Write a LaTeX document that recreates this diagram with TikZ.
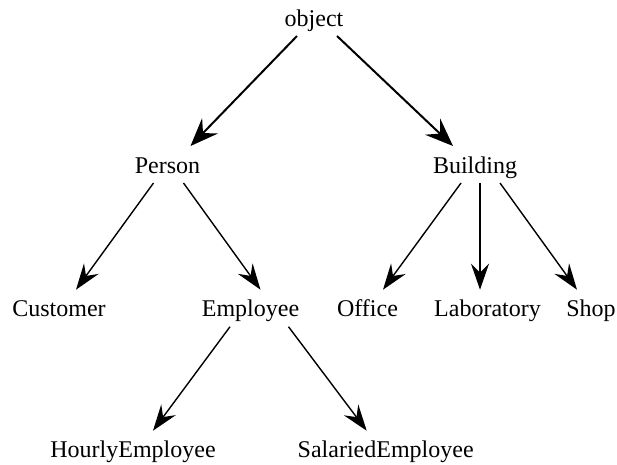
\documentclass[tikz,border=0pt]{standalone}
\usepackage{fontspec}
\setmainfont{Liberation Serif}
\usetikzlibrary{arrows.meta}
\tikzset{
  cls/.style    ={anchor=base,inner sep=0pt,outer xsep=0pt,outer ysep=10pt,
                  text height=17pt,text depth=0pt,font=\fontsize{24}{28}\selectfont},
  isa/.style    ={-{Stealth[length=26pt,width=18pt,inset=9pt]},line width=1.4pt},
  isatop/.style ={-{Stealth[length=28pt,width=22pt,inset=10pt]},line width=2pt},
}

\begin{document}
\begin{tikzpicture}[x=1pt,y=-1pt]
  \useasboundingbox (0,0) rectangle (617,464);
  \node[cls] (obj)      at (314,26)    {object};
  \node[cls] (person)   at (167.5,173) {Person};
  \node[cls] (bldg)     at (475,173)   {Building};
  \node[cls] (cust)     at (59,316.7)  {Customer};
  \node[cls] (emp)      at (250.5,316.7) {Employee};
  \node[cls] (office)   at (367.5,316.7) {Office};
  \node[cls] (lab)      at (487.5,316.7) {Laboratory};
  \node[cls] (shop)     at (591,316.7) {Shop};
  \node[cls] (hourly)   at (133,457.7) {HourlyEmployee};
  \node[cls] (salaried) at (385.7,457.7) {SalariedEmployee};
  \draw[isatop] ([xshift=-17pt]obj.south) -- ([xshift=23pt]person.north);
  \draw[isatop] ([xshift=23pt]obj.south) -- ([xshift=-22pt]bldg.north);
  \draw[isa] ([xshift=-14pt]person.south) -- ([xshift=17pt]cust.north);
  \draw[isa] ([xshift=16pt]person.south) -- ([xshift=10pt]emp.north);
  \draw[isa] ([xshift=-14pt]bldg.south) -- ([xshift=15.5pt]office.north);
  \draw[isa] ([xshift=5pt]bldg.south) -- ([xshift=-7.5pt]lab.north);
  \draw[isa] ([xshift=25pt]bldg.south) -- ([xshift=-14pt]shop.north);
  \draw[isa] ([xshift=-20.5pt]emp.south) -- ([xshift=20pt]hourly.north);
  \draw[isa] ([xshift=38pt]emp.south) -- ([xshift=-19pt]salaried.north);
\end{tikzpicture}
\end{document}
